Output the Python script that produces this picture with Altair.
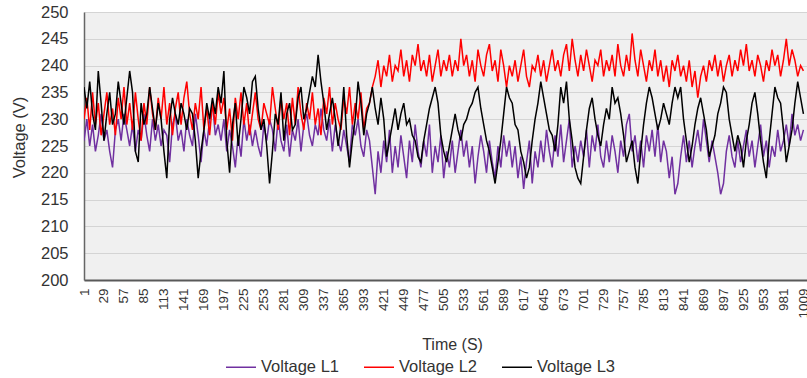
import altair as alt
import pandas as pd

# ---- data ----
time_start = 1
time_step = 4

voltage_l1 = [
    226, 230, 225, 229, 224, 227, 231, 226, 228, 224,
    221, 228, 230, 226, 231, 228, 225, 229, 224, 228,
    226, 231, 227, 224, 230, 226, 229, 225, 228, 227,
    222, 229, 231, 226, 228, 224, 230, 227, 225, 231,
    227, 222, 228, 225, 230, 233, 227, 229, 226, 230,
    224, 228, 225, 221, 227, 223, 230, 226, 229, 225,
    228, 225, 223, 229, 226, 230, 228, 224, 230, 226,
    224, 229, 223, 228, 226, 230, 224, 229, 231, 227,
    225, 229, 227, 232, 228, 226, 230, 224, 229, 226,
    224, 228, 225, 222, 229, 227, 230, 225, 223, 228,
    226, 221, 216, 224, 220, 226, 222, 228, 220, 225,
    221, 227, 223, 219, 226, 222, 229, 224, 221, 226,
    223, 229, 220, 225, 222, 227, 219, 224, 221, 226,
    220, 224, 228, 223, 226, 221, 225, 218, 223, 227,
    224, 220, 226, 222, 219, 225, 221, 227, 223, 226,
    221, 225, 219, 223, 217, 222, 226, 218, 224, 221,
    226, 222, 228, 224, 221, 227, 223, 229, 222, 226,
    230, 221, 225, 222, 226, 223, 228, 221, 227, 224,
    229, 223, 221, 226, 222, 227, 224, 220, 226, 223,
    229, 231, 224, 227, 222, 226, 221, 227, 224, 228,
    223, 229, 222, 226, 224, 219, 223, 216, 218, 223,
    227, 222, 226, 221, 225, 228, 224, 230, 226, 222,
    226, 223, 220, 216, 218, 224, 227, 223, 221, 226,
    222, 225, 228, 223, 226, 221, 225, 229, 223, 226,
    221, 225, 223, 228, 224, 226, 229, 225, 231, 227,
    229, 226, 228,
]

voltage_l2 = [
    230, 234, 228, 235, 229, 233, 227, 231, 235, 229,
    232, 227, 234, 230, 236, 229, 233, 228, 235, 230,
    226, 233, 229, 236, 231, 228, 234, 230, 236, 229,
    233, 227, 232, 235, 229, 234, 237, 231, 228, 233,
    230, 236, 228, 232, 227, 233, 229, 235, 231, 234,
    228, 232, 226, 234, 230, 235, 229, 233, 227, 231,
    235, 230, 228, 233, 231, 229, 236, 232, 228, 234,
    230, 233, 227, 234, 229, 236, 231, 228, 233, 230,
    235, 229, 232, 227, 234, 231, 236, 229, 233, 230,
    228, 234, 231, 236, 229, 233, 230, 235, 228, 232,
    233, 236, 238, 241, 236, 240, 238, 242, 237, 240,
    239, 243, 238, 241, 237, 242, 240, 244, 239, 241,
    238, 242, 237, 240, 243, 238, 241, 239, 242, 238,
    241, 239, 245, 240, 242, 238, 241, 237, 243, 240,
    238, 242, 244, 239, 241, 237, 243, 240, 236, 240,
    238, 241, 237, 240, 243, 238, 236, 240, 239, 242,
    238, 241, 237, 240, 243, 239, 241, 238, 242, 244,
    239, 245, 241, 238, 242, 239, 243, 240, 237, 241,
    240, 243, 238, 241, 239, 242, 238, 244, 240, 238,
    242, 239, 246, 241, 238, 243, 240, 237, 241, 239,
    243, 238, 241, 237, 240, 236, 241, 239, 242, 238,
    240, 237, 241, 236, 239, 234, 238, 240, 237, 241,
    239, 242, 238, 241, 237, 240, 242, 238, 241, 239,
    243, 240, 244, 239, 241, 238, 242, 240, 237, 241,
    239, 243, 240, 242, 238, 241, 245, 240, 243, 241,
    238, 240, 239,
]

voltage_l3 = [
    236, 232, 237, 231, 228, 239, 233, 226, 231, 235,
    229, 231, 237, 233, 229, 234, 239, 235, 224, 222,
    233, 229, 231, 236, 232, 228, 233, 230, 224, 219,
    230, 234, 231, 229, 233, 231, 228, 232, 231, 226,
    219, 224, 228, 233, 230, 234, 231, 236, 233, 239,
    226, 220, 229, 233, 225, 230, 236, 234, 231, 237,
    238, 232, 228, 230, 225, 218, 224, 231, 229, 235,
    226, 231, 233, 228, 229, 234, 236, 230, 232, 235,
    238, 236, 242, 237, 233, 228, 231, 234, 230, 225,
    229, 236, 227, 221, 226, 230, 237, 233, 227, 231,
    233, 236, 232, 229, 234, 230, 223, 226, 229, 232,
    228, 231, 233, 229, 230, 227, 226, 223, 222, 226,
    229, 232, 234, 236, 233, 227, 224, 222, 225, 228,
    231, 228, 226, 229, 230, 232, 233, 235, 236, 232,
    229, 226, 224, 221, 218, 222, 226, 231, 236, 234,
    233, 229, 228, 224, 222, 219, 221, 226, 230, 233,
    237, 234, 231, 228, 227, 224, 229, 236, 233, 237,
    230, 226, 221, 219, 218, 223, 228, 232, 234, 230,
    227, 225, 229, 232, 230, 236, 233, 234, 231, 227,
    222, 224, 226, 221, 218, 224, 229, 233, 236, 234,
    231, 228, 230, 233, 231, 229, 233, 236, 234, 236,
    230, 226, 222, 225, 229, 232, 234, 231, 228, 223,
    225, 227, 231, 233, 236, 235, 230, 227, 224, 227,
    225, 221, 226, 229, 233, 235, 231, 226, 222, 219,
    226, 231, 236, 234, 233, 228, 222, 225, 228, 233,
    237, 234, 231,
]

series_names = ["Voltage L1", "Voltage L2", "Voltage L3"]
series_colors = ["#7030A0", "#FF0000", "#000000"]
series_widths = [1.5, 1.5, 2.2]
x_tick_labels = list(range(1, 1010, 28))
y_tick_labels = list(range(200, 251, 5))

rows = []
for name, vals in zip(series_names, [voltage_l1, voltage_l2, voltage_l3]):
    for i, v in enumerate(vals):
        rows.append({"Time": time_start + time_step * i, "Voltage": v, "Series": name})
df = pd.DataFrame(rows)

FONT = "Liberation Sans"
TXT = "#333333"

chart = alt.Chart(df).mark_line(clip=True).encode(
    x=alt.X(
        "Time:Q",
        scale=alt.Scale(domain=[1, 1014], nice=False, zero=False),
        axis=alt.Axis(
            values=x_tick_labels, format="d", labelAngle=-90, title="Time (S)", grid=False,
            ticks=False, labelPadding=8, labelFontSize=13.5, labelColor=TXT,
            labelOverlap=False, labelFlush=False, labelFont=FONT,
            titleFont=FONT, titleFontSize=16, titleFontWeight="normal", titleColor=TXT,
            titleX=368, titleY=64, titleBaseline="middle",
            domainColor="#595959", domainWidth=2,
        ),
    ),
    y=alt.Y(
        "Voltage:Q",
        scale=alt.Scale(domain=[200, 250], nice=False, zero=False),
        axis=alt.Axis(
            values=y_tick_labels, title="Voltage (V)", grid=True, gridColor="#d4d4d4",
            ticks=False, labelPadding=16, labelFontSize=16.5, labelColor=TXT, labelFont=FONT,
            titleFont=FONT, titleFontSize=16.5, titleFontWeight="normal", titleColor=TXT,
            titleX=-65, titleY=125, titleBaseline="middle",
            domainColor="#666666", domainWidth=1.5,
        ),
    ),
    color=alt.Color(
        "Series:N",
        scale=alt.Scale(domain=series_names, range=series_colors),
        legend=alt.Legend(
            title=None, orient="none", legendX=141, legendY=339, direction="horizontal",
            symbolType="stroke", symbolSize=900, symbolStrokeWidth=1.5,
            labelFontSize=16.5, labelFont=FONT, labelColor=TXT, labelOffset=4,
            columnPadding=22, padding=0,
        ),
    ),
    strokeWidth=alt.StrokeWidth(
        "Series:N", scale=alt.Scale(domain=series_names, range=series_widths), legend=None
    ),
).properties(
    width=723,
    height=268,
    autosize=alt.AutoSizeParams(type="none"),
    padding={"left": 84, "top": 12, "right": 0, "bottom": 98},
    background="white",
).configure_view(
    fill="#f0f0f0", stroke=None
)

chart.save("out.html", embed_options={"renderer": "svg", "actions": False})
